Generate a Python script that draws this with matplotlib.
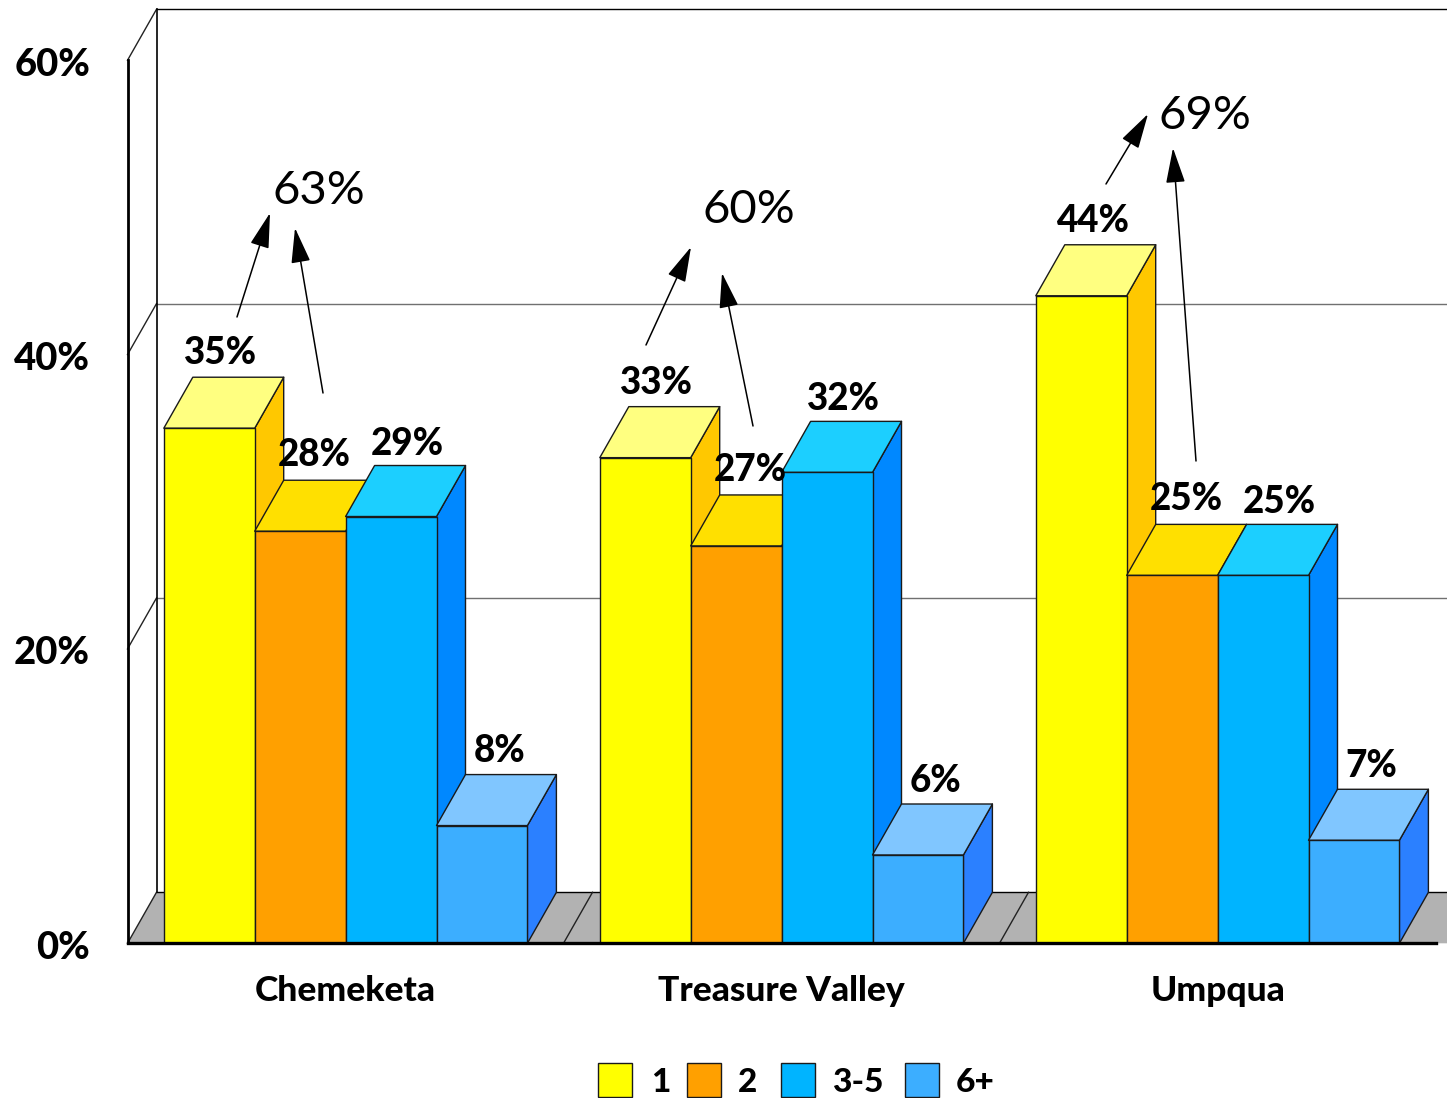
import matplotlib
matplotlib.use("Agg")
import matplotlib.pyplot as plt
from matplotlib.patches import Polygon, Rectangle
from matplotlib.transforms import ScaledTranslation

W, H = 1447, 1098

colleges = ["Chemeketa", "Treasure Valley", "Umpqua"]
series_names = ["1", "2", "3-5", "6+"]
one = [35, 33, 44]
two = [28, 27, 25]
three_five = [29, 32, 25]
six_plus = [8, 6, 7]
series = [one, two, three_five, six_plus]
totals = ["63%", "60%", "69%"]
y_ticks = [0, 20, 40, 60]

front = ["#FFFF00", "#FFA000", "#00B4FF", "#3CAEFF"]
top = ["#FFFF80", "#FFE000", "#1CCFFF", "#80C6FF"]
side = ["#FFC800", "#FFC800", "#0088FF", "#2B80FF"]

# label offset from the bar's top, in pixels, per series
label_dx = [11.5, 14.5, 16, 17.5]
label_dy = [13, 14, 11, 12.5]

plt.rcParams["font.family"] = ["Lato", "DejaVu Sans"]


def fx(px):
    return px / W


def fy(py):
    return 1 - py / H


fig = plt.figure(figsize=(W / 100, H / 100), dpi=100)
ax = fig.add_axes([fx(127.5), fy(943.3), fx(1435.5) - fx(127.5), fy(60.3) - fy(943.3)])
ax.set_xlim(0, 3)
ax.set_ylim(0, 60)
ax.patch.set_visible(False)

# depth of the fake 3d in data units
dx = 29 / 436
dy = 51 * 60 / 883
bar_w = 90.9 / 436
gap = 36.3 / 436
x_end = (W - 127.5) / 436

# floor and back wall
ax.add_patch(Polygon([(0, 0), (dx, dy), (x_end + dx, dy), (x_end, 0)], fc="#B2B2B2", ec="none", zorder=1, clip_on=False))
for v in y_ticks:
    c = "black" if v in (0, 60) else "#707070"
    ax.plot([dx, x_end], [v + dy, v + dy], color=c, lw=1, zorder=1.5, clip_on=False)
    ax.plot([0, dx], [v, v + dy], color="#222222", lw=1, zorder=1.5, clip_on=False)
ax.plot([dx, dx], [dy, 60 + dy], color="black", lw=1.2, zorder=1.5, clip_on=False)
for i in (1, 2):
    ax.plot([i, i + dx], [0, dy], color="#222222", lw=1, zorder=1.5)

# bars, drawn left to right so each one covers the side of the last
z = 2
for g in range(len(colleges)):
    for s, vals in enumerate(series):
        x0 = g + gap + s * bar_w
        x1 = x0 + bar_w
        v = vals[g]
        edge = dict(ec="#1A1A1A", lw=1, zorder=z, clip_on=False, joinstyle="round")
        ax.add_patch(Polygon([(x1, 0), (x1 + dx, dy), (x1 + dx, v + dy), (x1, v)], fc=side[s], **edge))
        ax.add_patch(Polygon([(x0, v), (x0 + dx, v + dy), (x1 + dx, v + dy), (x1, v)], fc=top[s], **edge))
        ax.add_patch(Rectangle((x0, 0), bar_w, v, fc=front[s], **edge))
        z += 0.01

for g in range(len(colleges)):
    for s, vals in enumerate(series):
        x0 = g + gap + s * bar_w
        ax.annotate(f"{vals[g]}%", (x0 + bar_w / 2, vals[g] + dy),
                    xytext=(label_dx[s] * 0.72, label_dy[s] * 0.72),
                    textcoords="offset points", ha="center", va="baseline",
                    fontsize=26.5, fontweight="black", zorder=10, annotation_clip=False)

ax.set_yticks(y_ticks)
ax.set_yticklabels([f"{v}%" for v in y_ticks], fontsize=27.5, fontweight="black")
ax.set_xticks([0.5, 1.5, 2.5])
ax.set_xticklabels(colleges, fontsize=25.5, fontweight="black")
ax.tick_params(axis="x", length=0, pad=23)
ax.tick_params(axis="y", length=0, pad=27)
down = ScaledTranslation(0, -1.5 / 100, fig.dpi_scale_trans)
for t in ax.get_yticklabels():
    t.set_transform(t.get_transform() + down)
for name in ("top", "right"):
    ax.spines[name].set_visible(False)
ax.spines["left"].set_linewidth(2)
ax.spines["bottom"].set_linewidth(2.4)
ax.spines["left"].set_zorder(9)
ax.spines["bottom"].set_zorder(9)

# totals with the arrows pointing at them
total_pos = [(319, 191), (749, 210), (1205, 116)]
arrows = [
    ((237, 317), (270, 213)), ((323, 393), (295, 228)),
    ((646, 345), (691, 247)), ((753, 426), (722, 273)),
    ((1106, 184), (1148, 114)), ((1196, 461), (1173, 148)),
]
for label, (px, py) in zip(totals, total_pos):
    fig.text(fx(px), fy(py), label, fontsize=34, ha="center", va="center", zorder=11)
for start, end in arrows:
    ax.annotate("", xy=(fx(end[0]), fy(end[1])), xytext=(fx(start[0]), fy(start[1])),
                xycoords="figure fraction", textcoords="figure fraction", zorder=11,
                arrowprops=dict(arrowstyle="-|>,head_length=22,head_width=6", color="black", lw=1.1,
                                shrinkA=0, shrinkB=0, mutation_scale=1))

# legend
swatch_x = [598, 687, 781, 905]
label_x = [651, 738, 832, 956]
for name, c, sx, lx in zip(series_names, front, swatch_x, label_x):
    fig.add_artist(Rectangle((fx(sx), fy(1097)), 34 / W, 34 / H, fc=c, ec="#1A1A1A", lw=1,
                             transform=fig.transFigure))
    fig.text(fx(lx), fy(1082), name, fontsize=24, fontweight="black", ha="left", va="center")

fig.savefig("out.png", dpi=100)
